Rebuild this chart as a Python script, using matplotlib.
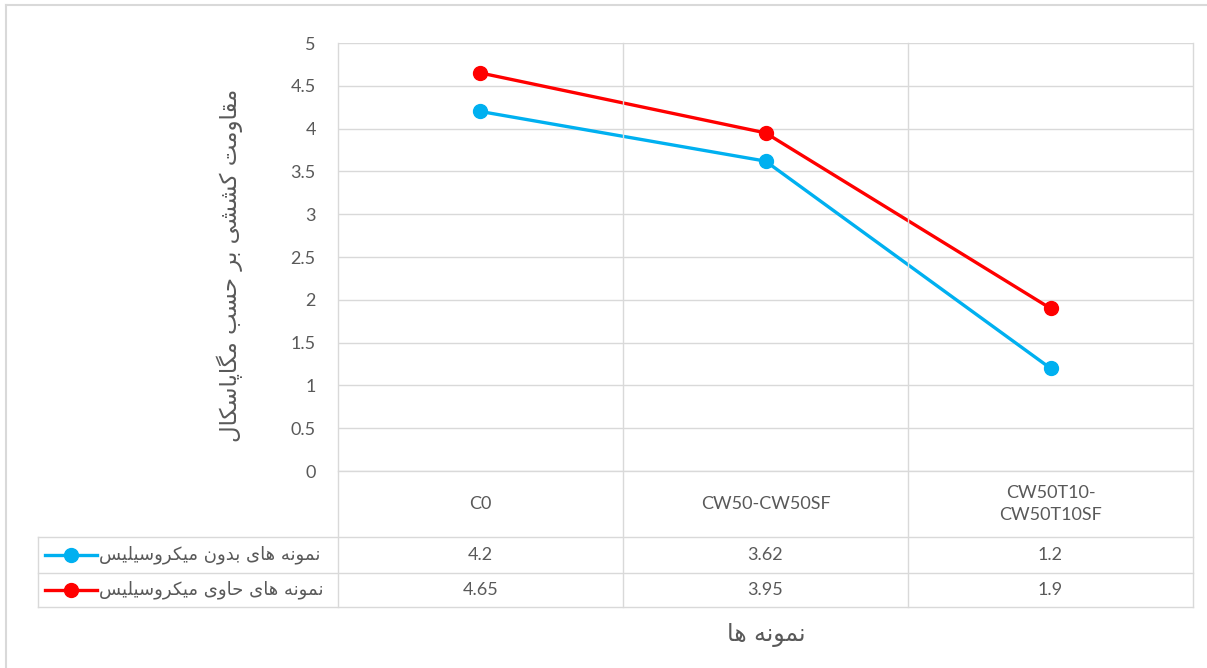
import numpy as np
import matplotlib
matplotlib.use("Agg")
import matplotlib.pyplot as plt
from matplotlib.lines import Line2D

# data
categories = ["C0", "CW50-CW50SF", "CW50T10-\nCW50T10SF"]
without_ms = [4.2, 3.62, 1.2]
with_ms = [4.65, 3.95, 1.9]
name_without = "نمونه های بدون میکروسیلیس"
name_with = "نمونه های حاوی میکروسیلیس"
y_title = "مقاومت کششی بر حسب مگاپاسکال"
x_title = "نمونه ها"
yticks = np.arange(0, 5.01, 0.5)

# simple persian shaping (matplotlib has no text shaping)
FORMS = {
    "ا": ("\uFE8D", "\uFE8E"), "د": ("\uFEA9", "\uFEAA"), "ر": ("\uFEAD", "\uFEAE"),
    "و": ("\uFEED", "\uFEEE"), "ز": ("\uFEAF", "\uFEB0"),
    "ب": ("\uFE8F", "\uFE90", "\uFE91", "\uFE92"), "پ": ("\uFB56", "\uFB57", "\uFB58", "\uFB59"),
    "ت": ("\uFE95", "\uFE96", "\uFE97", "\uFE98"), "ح": ("\uFEA1", "\uFEA2", "\uFEA3", "\uFEA4"),
    "س": ("\uFEB1", "\uFEB2", "\uFEB3", "\uFEB4"), "ش": ("\uFEB5", "\uFEB6", "\uFEB7", "\uFEB8"),
    "ق": ("\uFED5", "\uFED6", "\uFED7", "\uFED8"), "ک": ("\uFB8E", "\uFB8F", "\uFB90", "\uFB91"),
    "گ": ("\uFB92", "\uFB93", "\uFB94", "\uFB95"), "ل": ("\uFEDD", "\uFEDE", "\uFEDF", "\uFEE0"),
    "م": ("\uFEE1", "\uFEE2", "\uFEE3", "\uFEE4"), "ن": ("\uFEE5", "\uFEE6", "\uFEE7", "\uFEE8"),
    "ه": ("\uFEE9", "\uFEEA", "\uFEEB", "\uFEEC"), "ی": ("\uFBFC", "\uFBFD", "\uFBFE", "\uFBFF"),
}


def fa(s):
    out = []
    for i, c in enumerate(s):
        if c not in FORMS:
            out.append(c)
            continue
        f = FORMS[c]
        prev = s[i - 1] if i > 0 else None
        nxt = s[i + 1] if i + 1 < len(s) else None
        jp = prev in FORMS and len(FORMS[prev]) == 4
        jn = nxt in FORMS and len(f) == 4
        if jp and jn:
            out.append(f[3])
        elif jp:
            out.append(f[1])
        elif jn:
            out.append(f[2])
        else:
            out.append(f[0])
    return "".join(out)[::-1]


W, H = 1207, 668
TXT = "#595959"
GRID = "#d9d9d9"
BLUE = "#00b0f0"
RED = "#ff0000"
LATIN = ["Lato", "DejaVu Sans"]
FS = 13


def fx(x):
    return x / W


def fy(y):
    return 1 - y / H


def hline(y, x0, x1, lw=1.0):
    fig.add_artist(Line2D([fx(x0), fx(x1)], [fy(y), fy(y)], color=GRID, lw=lw))


def vline(x, y0, y1, lw=1.0):
    fig.add_artist(Line2D([fx(x), fx(x)], [fy(y0), fy(y1)], color=GRID, lw=lw))


fig = plt.figure(figsize=(W / 100, H / 100), dpi=100)
ax = fig.add_axes([fx(338), fy(471), fx(1193) - fx(338), fy(43) - fy(471)])
ax.set_xlim(-0.5, 2.5)
ax.set_ylim(0, 5)
for s in ax.spines.values():
    s.set_visible(False)
ax.set_xticks([])
ax.set_yticks(yticks)
ax.set_yticklabels([f"{v:g}" for v in yticks], fontsize=FS, color=TXT, family=LATIN)
ax.tick_params(axis="y", length=0, pad=16)
ax.grid(axis="y", color=GRID, lw=1)
ax.set_axisbelow(True)

x = np.arange(len(categories))
ax.plot(x, without_ms, color=BLUE, lw=2.4, marker="o", ms=10, zorder=3, clip_on=False)
ax.plot(x, with_ms, color=RED, lw=2.4, marker="o", ms=10, zorder=3, clip_on=False)

# data table grid
col_x = [338, 623, 908, 1193]
for cx in col_x:
    vline(cx, 43, 607)
vline(38, 537, 607)
hline(471, 338, 1193)
for ry in [537, 573, 607]:
    hline(ry, 38, 1193)

centers = [(col_x[i] + col_x[i + 1]) / 2 for i in range(3)]
for cxp, lab, a, b in zip(centers, categories, without_ms, with_ms):
    fig.text(fx(cxp), fy(504), lab, ha="center", va="center", fontsize=FS,
             color=TXT, family=LATIN, linespacing=1.5)
    fig.text(fx(cxp), fy(555), f"{a:g}", ha="center", va="center", fontsize=FS,
             color=TXT, family=LATIN)
    fig.text(fx(cxp), fy(590), f"{b:g}", ha="center", va="center", fontsize=FS,
             color=TXT, family=LATIN)

# legend keys inside the table
for ry, col, name in [(555, BLUE, name_without), (590, RED, name_with)]:
    fig.add_artist(Line2D([fx(45), fx(97)], [fy(ry), fy(ry)], color=col, lw=2.4))
    fig.add_artist(Line2D([fx(71)], [fy(ry)], color=col, marker="o", ms=10, lw=0))
    fig.text(fx(99), fy(ry), fa(name), ha="left", va="center", fontsize=13,
             color=TXT, family="DejaVu Sans")

# axis titles
fig.text(fx(230), fy(265), fa(y_title), rotation=90, ha="center", va="center",
         fontsize=16.5, color=TXT, family="DejaVu Sans")
fig.text(fx(766), fy(635), fa(x_title), ha="center", va="center",
         fontsize=17, color=TXT, family="DejaVu Sans")

# chart border (only top/left visible in the crop)
hline(5, 6, 1207, lw=1.5)
vline(6, 5, 668, lw=1.5)

fig.savefig("out.png", dpi=100)
